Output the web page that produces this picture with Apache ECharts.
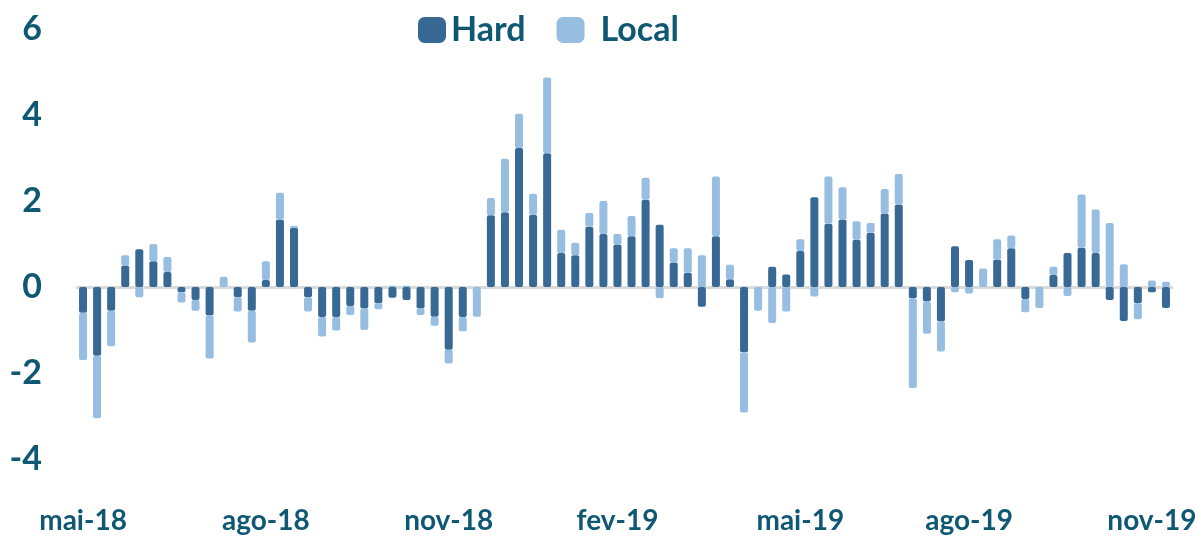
<!DOCTYPE html>
<html>
<head>
<meta charset="utf-8">
<script src="https://cdn.jsdelivr.net/npm/echarts@6/dist/echarts.min.js"></script>
<style>
  html, body { margin: 0; padding: 0; background: #fff; }
  #chart { width: 1201px; height: 537px; }
</style>
</head>
<body>
<div id="chart"></div>
<script>
// semanas (categorias), de mai-18 a nov-19
const weeks = []
for (let i = 0; i < 78; i++) {
  const d = new Date(Date.UTC(2018, 4, 4 + 7 * i))
  weeks.push(d.toISOString().slice(0, 10))
}

// rótulos do eixo x e a semana onde aparecem
const tickIdx = [0, 13, 26, 38, 51, 63, 76]
const tickLabels = ['mai-18', 'ago-18', 'nov-18', 'fev-19', 'mai-19', 'ago-19', 'nov-19']

const hard = [
  -0.6, -1.6, -0.55, 0.5, 0.88, 0.6, 0.35, -0.12, -0.3, -0.66,
  0, -0.24, -0.55, 0.16, 1.57, 1.38, -0.24, -0.7, -0.7, -0.44,
  -0.5, -0.38, -0.25, -0.3, -0.5, -0.69, -1.46, -0.7, 0, 1.67,
  1.74, 3.23, 1.68, 3.11, 0.79, 0.74, 1.4, 1.23, 0.99, 1.18,
  2.03, 1.45, 0.57, 0.33, -0.46, 1.18, 0.18, -1.52, 0, 0.47,
  0.29, 0.84, 2.09, 1.47, 1.57, 1.1, 1.26, 1.71, 1.92, -0.26,
  -0.34, -0.8, 0.95, 0.63, 0, 0.64, 0.9, -0.28, 0, 0.28,
  0.79, 0.91, 0.79, -0.3, -0.79, -0.38, -0.12, -0.49
]

const local = [
  -1.1, -1.45, -0.83, 0.24, -0.24, 0.4, 0.35, -0.24, -0.25, -1.0,
  0.24, -0.33, -0.74, 0.44, 0.62, 0.04, -0.33, -0.45, -0.31, -0.21,
  -0.5, -0.14, 0.03, 0.03, -0.15, -0.21, -0.32, -0.33, -0.69, 0.4,
  1.24, 0.8, 0.49, 1.76, 0.54, 0.29, 0.32, 0.77, 0.24, 0.47,
  0.51, -0.26, 0.33, 0.57, 0.74, 1.39, 0.34, -1.4, -0.55, -0.84,
  -0.57, 0.27, -0.22, 1.1, 0.75, 0.43, 0.23, 0.57, 0.71, -2.09,
  -0.75, -0.7, -0.12, -0.15, 0.43, 0.47, 0.3, -0.31, -0.49, 0.19,
  -0.21, 1.24, 1.01, 1.49, 0.53, -0.37, 0.15, 0.12
]

const textColor = '#0f5874'
const font = 'Lato'

const chart = echarts.init(document.getElementById('chart'))

chart.setOption({
  animation: false,
  legend: {
    left: 413,
    top: 8,
    itemWidth: 28,
    itemHeight: 26,
    itemGap: 31,
    icon: 'roundRect',
    textStyle: {
      color: textColor,
      fontFamily: font,
      fontWeight: 'bold',
      fontSize: 34,
      padding: [0, 0, 0, 0],
    },
    data: [
      { name: 'Hard' },
      { name: 'Local', textStyle: { padding: [0, 0, 0, 11] } },
    ],
  },
  grid: {
    left: 76,
    right: 28,
    top: 29,
    height: 430,
  },
  xAxis: {
    type: 'category',
    data: weeks,
    axisLine: { show: false, onZero: false },
    axisTick: { show: false },
    splitLine: { show: false },
    axisLabel: {
      interval: (index) => tickIdx.includes(index),
      formatter: (value, index) => {
        const k = tickIdx.indexOf(index)
        return k >= 0 ? tickLabels[k] : ''
      },
      margin: 48,
      color: textColor,
      fontFamily: font,
      fontWeight: 'bold',
      fontSize: 28,
    },
  },
  yAxis: {
    type: 'value',
    min: -4,
    max: 6,
    interval: 2,
    axisLine: { show: false },
    axisTick: { show: false },
    splitLine: { show: false },
    axisLabel: {
      margin: 34,
      color: textColor,
      fontFamily: font,
      fontWeight: 'bold',
      fontSize: 34,
      padding: [12, 0, 0, 0],
    },
  },
  series: [
    {
      name: 'Hard',
      type: 'bar',
      stack: 'total',
      data: hard,
      barWidth: 8,
      itemStyle: { color: '#386894', borderRadius: 2 },
      markLine: {
        silent: true,
        symbol: 'none',
        label: { show: false },
        lineStyle: { color: '#d9d9d9', width: 3, type: 'solid' },
        data: [{ yAxis: 0 }],
        z: 1,
      },
    },
    {
      name: 'Local',
      type: 'bar',
      stack: 'total',
      data: local,
      barWidth: 8,
      itemStyle: { color: '#97bde0', borderRadius: 2 },
    },
  ],
})
</script>
</body>
</html>
